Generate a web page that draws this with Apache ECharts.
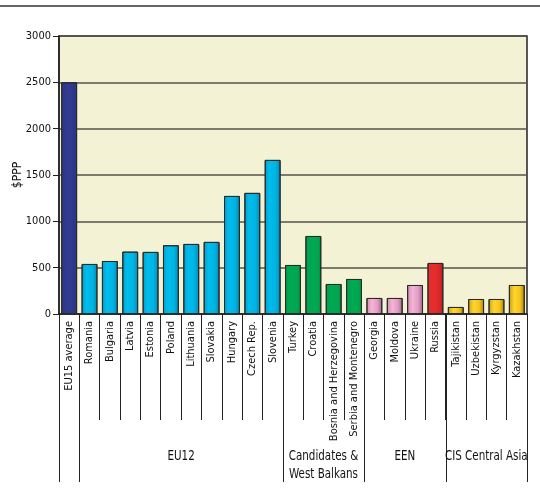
<!DOCTYPE html>
<html>
<head>
<meta charset="utf-8">
<script src="https://cdn.jsdelivr.net/npm/echarts@6/dist/echarts.min.js"></script>
<style>
html,body{margin:0;padding:0;background:#fff;}
#c{width:540px;height:504px;}
</style>
</head>
<body>
<div id="c"></div>
<script>
// ---- data ----
const categories = ['EU15 average','Romania','Bulgaria','Latvia','Estonia','Poland','Lithuania','Slovakia','Hungary','Czech Rep.','Slovenia','Turkey','Croatia','Bosnia and Herzegovina','Serbia and Montenegro','Georgia','Moldova','Ukraine','Russia','Tajikistan','Uzbekistan','Kyrgyzstan','Kazakhstan'];
const values = [2500,540,572,673,670,742,756,778,1274,1307,1663,529,842,324,378,173,173,313,551,76,162,162,313];
const groupNames = ['', 'EU12', 'Candidates &\nWest Balkans', 'EEN', 'CIS Central Asia'];
const groupSizes = [1, 10, 4, 4, 4];
const yTicks = [0, 500, 1000, 1500, 2000, 2500, 3000];

// ---- styles ----
function grad(stops){
  return new echarts.graphic.LinearGradient(0,0,1,0, stops.map((c,i)=>({offset:c[0],color:c[1]})));
}
const groupStyles = [
  grad([[0,'#2C3688'],[0.5,'#323C92'],[1,'#2A3484']]),
  grad([[0,'#009CCB'],[0.3,'#00BDEC'],[0.7,'#00B3E3'],[1,'#0089B2']]),
  grad([[0,'#009F4B'],[0.4,'#00AA52'],[0.8,'#00A54F'],[1,'#008A42']]),
  grad([[0,'#D48BB6'],[0.35,'#F3B5D6'],[0.7,'#E39BC3'],[1,'#9C628A']]),
  grad([[0,'#C99E12'],[0.35,'#FFD62E'],[0.7,'#F4C41A'],[1,'#A7800C']])
];
const specialStyles = { 'Russia': grad([[0,'#E2302E'],[0.5,'#E62C2C'],[0.8,'#D42628'],[1,'#A01C1E']]) };

const groupOf = [];
groupSizes.forEach((n,g)=>{ for(let k=0;k<n;k++) groupOf.push(g); });

const barData = values.map((v,i)=>({
  value: v,
  itemStyle: { color: specialStyles[categories[i]] || groupStyles[groupOf[i]] }
}));

const FONT = "'DejaVu Sans Condensed','Liberation Sans Narrow',sans-serif";

const chart = echarts.init(document.getElementById('c'), null, {renderer:'canvas'});
const option = {
  animation: false,
  grid: { left: 59, right: 13, top: 36, bottom: 190, outerBoundsMode: 'none', containLabel: false, show: true, backgroundColor: '#F3F2D4', borderColor: '#222', borderWidth: 1.5 },
  xAxis: {
    type: 'category',
    data: categories,
    axisLine: { show: true, lineStyle: { color: '#222', width: 1.5 } },
    axisTick: { show: true, interval: 0, length: 106, lineStyle: { color: '#222', width: 1 } },
    axisLabel: { interval: 0, rotate: 90, margin: 7, fontSize: 11, color: '#111', fontFamily: FONT }
  },
  yAxis: {
    type: 'value',
    min: yTicks[0], max: yTicks[yTicks.length-1], interval: 500,
    name: '$PPP', nameLocation: 'middle', nameGap: 35, nameRotate: 90, nameMoveOverlap: false,
    nameTextStyle: { fontSize: 12, color: '#111', fontFamily: FONT },
    axisLine: { show: true, lineStyle: { color: '#222', width: 1.5 } },
    axisTick: { show: true, length: 6, lineStyle: { color: '#222', width: 1 } },
    axisLabel: { fontSize: 11, color: '#111', fontFamily: FONT, margin: 8, formatter: v => String(v) },
    splitLine: { show: true, lineStyle: { color: '#55554d', width: 1.5 } }
  },
  series: [{
    type: 'bar',
    data: barData,
    barCategoryGap: '22%',
    itemStyle: { borderColor: '#2a2a2a', borderWidth: 1 }
  }]
};
chart.setOption(option);

// group separators and labels from the category axis scale
const c0 = chart.convertToPixel({xAxisIndex:0}, 0);
const c1 = chart.convertToPixel({xAxisIndex:0}, 1);
const band = c1 - c0;
const y0 = chart.convertToPixel({yAxisIndex:0}, 0);
const boundary = i => c0 - band/2 + i*band;
const elements = [
  { type:'line', shape:{x1:0,y1:6,x2:540,y2:6}, style:{stroke:'#666',lineWidth:2} }
];
let start = 0;
const bIdx = [0];
groupSizes.forEach(n=>{ start += n; bIdx.push(start); });
bIdx.forEach(i=>{
  const x = Math.round(boundary(i)) + 0.5;
  elements.push({ type:'line', shape:{x1:x,y1:y0,x2:x,y2:y0+168}, style:{stroke:'#222',lineWidth:1} });
});
groupNames.forEach((name,g)=>{
  if(!name) return;
  const cx = (boundary(bIdx[g]) + boundary(bIdx[g+1]))/2;
  elements.push({ type:'text', x: cx, y: y0+133, scaleX: 0.82, style:{ text:name, fill:'#111', font: "14px " + FONT, align:'center', verticalAlign:'top', lineHeight:18 } });
});
chart.setOption({ graphic: { elements } });
</script>
</body>
</html>
